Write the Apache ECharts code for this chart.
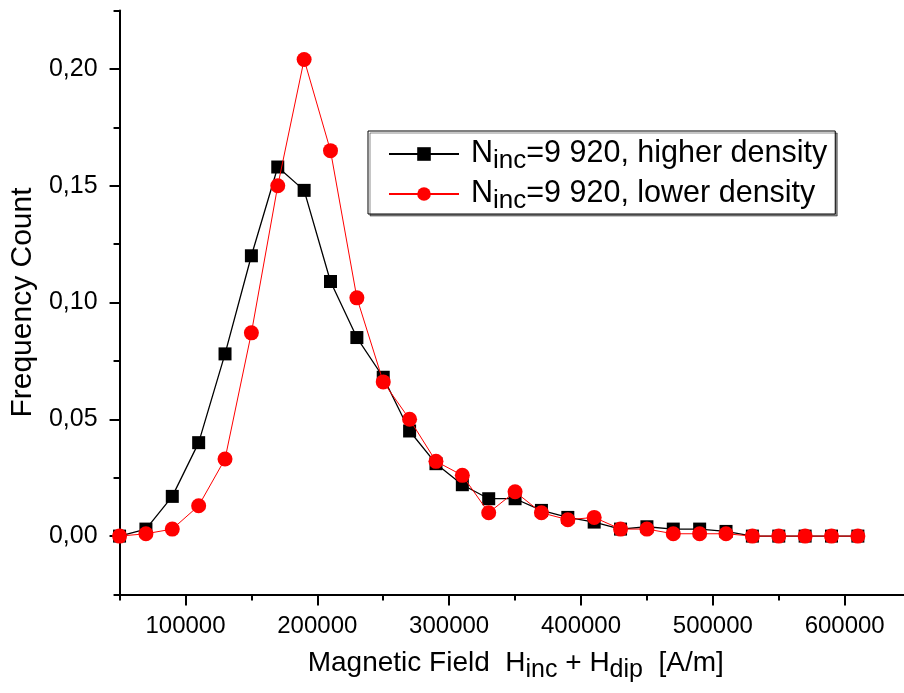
<!DOCTYPE html>
<html>
<head>
<meta charset="utf-8">
<script src="https://cdn.jsdelivr.net/npm/echarts@6/dist/echarts.min.js"></script>
<style>
  html, body { margin: 0; padding: 0; background: #fff; }
  #chart { width: 904px; height: 693px; }
</style>
</head>
<body>
<div id="chart"></div>
<script>
// Field bins [A/m]
const fieldValues = [50000, 70000, 90000, 110000, 130000, 150000, 170000, 190000, 210000, 230000,
  250000, 270000, 290000, 310000, 330000, 350000, 370000, 390000, 410000, 430000,
  450000, 470000, 490000, 510000, 530000, 550000, 570000, 590000, 610000];

// Normalised frequency, higher-density sample
const higherDensity = [0.000, 0.003, 0.017, 0.040, 0.078, 0.120, 0.158, 0.148, 0.109, 0.085,
  0.068, 0.045, 0.031, 0.022, 0.016, 0.016, 0.011, 0.008, 0.006, 0.003,
  0.004, 0.003, 0.003, 0.002, 0.000, 0.000, 0.000, 0.000, 0.000];

// Normalised frequency, lower-density sample
const lowerDensity = [0.000, 0.001, 0.003, 0.013, 0.033, 0.087, 0.150, 0.204, 0.165, 0.102,
  0.066, 0.050, 0.032, 0.026, 0.010, 0.019, 0.010, 0.007, 0.008, 0.003,
  0.003, 0.001, 0.001, 0.001, 0.000, 0.000, 0.000, 0.000, 0.000];

const xMajorTicks = [100000, 200000, 300000, 400000, 500000, 600000];
const xMinorTicks = [50000, 150000, 250000, 350000, 450000, 550000];
const yMajorTicks = [0, 0.05, 0.10, 0.15, 0.20];
const yMinorTicks = [-0.025, 0.025, 0.075, 0.125, 0.175, 0.225];

const FONT = "'Liberation Sans', Arial, sans-serif";
const X_MIN = 50000, X_MAX = 645000;
const Y_MIN = -0.025, Y_MAX = 0.225;

const chart = echarts.init(document.getElementById('chart'), null, { renderer: 'canvas' });

const pairs = (ys) => fieldValues.map((x, i) => [x, ys[i]]);

const baseX = {
  type: 'value', min: X_MIN, max: X_MAX, gridIndex: 0, position: 'bottom',
  splitLine: { show: false }
};
const baseY = {
  type: 'value', min: Y_MIN, max: Y_MAX, gridIndex: 0, position: 'left',
  splitLine: { show: false }
};

chart.setOption({
  animation: false,
  backgroundColor: '#fff',
  grid: { left: 118.5, right: 0, top: 10.5, bottom: 98.5, containLabel: false },
  xAxis: [
    Object.assign({}, baseX, {
      name: '{a|Magnetic Field  H}{s|inc}{a| + H}{s|dip}{a|  [A/m]}',
      nameLocation: 'middle',
      nameGap: 48,
      nameTextStyle: {
        color: '#000', fontFamily: FONT, fontSize: 28,
        padding: [0, 0, 0, 8],
        rich: {
          a: { fontFamily: FONT, fontSize: 28, lineHeight: 34, color: '#000' },
          s: { fontFamily: FONT, fontSize: 25, lineHeight: 20, color: '#000', padding: [14, 0, 0, 0] }
        }
      },
      axisLine: { show: true, onZero: false, lineStyle: { color: '#000', width: 2 } },
      axisTick: { show: true, inside: false, length: 11, lineStyle: { color: '#000', width: 2 }, customValues: xMajorTicks },
      axisLabel: {
        show: true, margin: 20, color: '#000', fontFamily: FONT, fontSize: 24,
        customValues: xMajorTicks,
        formatter: (v) => String(Math.round(v))
      }
    }),
    Object.assign({}, baseX, {
      axisLine: { show: false, onZero: false },
      axisTick: { show: true, inside: false, length: 6, lineStyle: { color: '#000', width: 2 }, customValues: xMinorTicks },
      axisLabel: { show: false }
    })
  ],
  yAxis: [
    Object.assign({}, baseY, {
      name: 'Frequency Count',
      nameLocation: 'middle',
      nameGap: 80,
      nameTextStyle: { color: '#000', fontFamily: FONT, fontSize: 30 },
      axisLine: { show: true, onZero: false, lineStyle: { color: '#000', width: 2 } },
      axisTick: { show: true, inside: false, length: 10, lineStyle: { color: '#000', width: 2 }, customValues: yMajorTicks },
      axisLabel: {
        show: true, margin: 22, color: '#000', fontFamily: FONT, fontSize: 25,
        customValues: yMajorTicks,
        formatter: (v) => v.toFixed(2).replace('.', ',')
      }
    }),
    Object.assign({}, baseY, {
      axisLine: { show: false, onZero: false },
      axisTick: { show: true, inside: false, length: 6, lineStyle: { color: '#000', width: 2 }, customValues: yMinorTicks },
      axisLabel: { show: false }
    })
  ],
  legend: {
    orient: 'vertical',
    left: 368, top: 131,
    padding: [3, 8, 0, 20],
    itemGap: 0,
    itemWidth: 70,
    itemHeight: 17,
    backgroundColor: '#fff',
    borderColor: '#000',
    borderWidth: 1,
    borderRadius: 0,
    shadowColor: 'rgba(0,0,0,0.45)',
    shadowBlur: 0,
    shadowOffsetX: 2,
    shadowOffsetY: 2,
    formatter: (name) => '{p|N}{s|inc}{n|=9 920, ' + name + '}',
    textStyle: {
      color: '#000', fontFamily: FONT, fontSize: 30.5,
      rich: {
        p: { fontFamily: FONT, fontSize: 30.5, lineHeight: 34, color: '#000', padding: [0, 0, 0, 7] },
        n: { fontFamily: FONT, fontSize: 30.5, lineHeight: 34, color: '#000' },
        s: { fontFamily: FONT, fontSize: 26, lineHeight: 20, color: '#000', padding: [14, 0, 0, 0] }
      }
    },
    data: ['higher density', 'lower density']
  },
  series: [
    {
      name: 'higher density',
      type: 'line',
      xAxisIndex: 0, yAxisIndex: 0,
      data: pairs(higherDensity),
      symbol: 'rect',
      symbolSize: 13,
      itemStyle: { color: '#000' },
      lineStyle: { color: '#000', width: 1.3 },
      emphasis: { disabled: true },
      z: 2
    },
    {
      name: 'lower density',
      type: 'line',
      xAxisIndex: 0, yAxisIndex: 0,
      data: pairs(lowerDensity),
      symbol: 'circle',
      symbolSize: 15,
      itemStyle: { color: '#ff0000' },
      lineStyle: { color: '#ff0000', width: 1 },
      emphasis: { disabled: true },
      z: 3
    }
  ]
});
</script>
</body>
</html>
